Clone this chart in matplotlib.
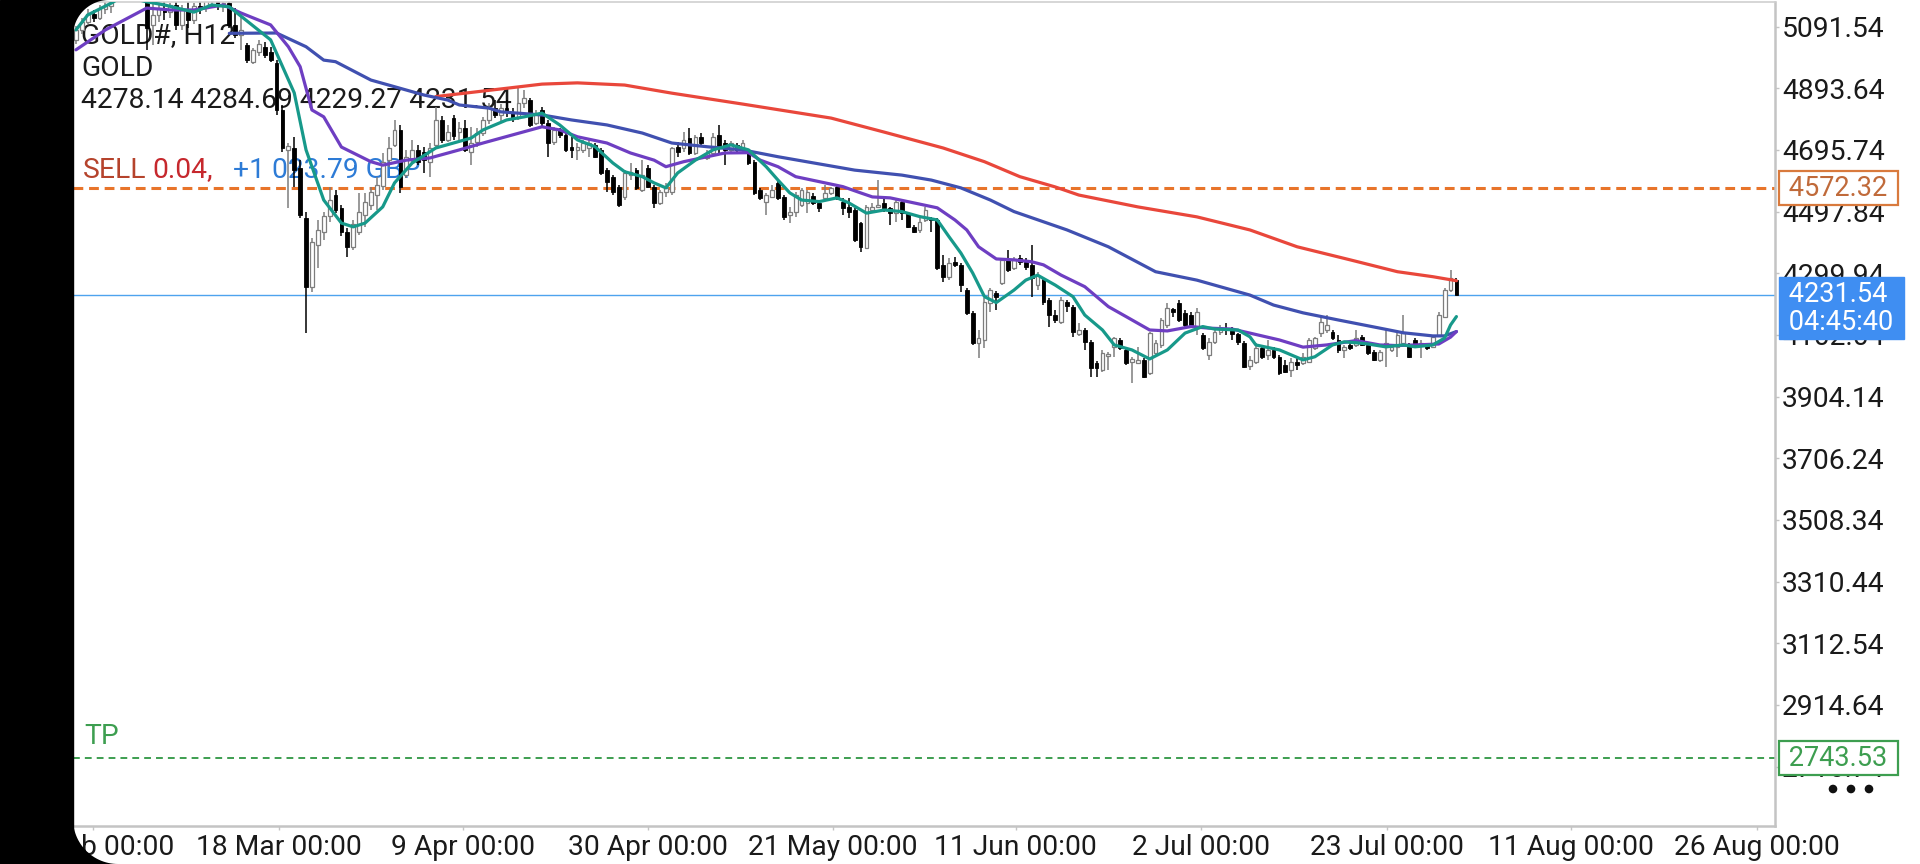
import numpy as np
import matplotlib
matplotlib.use("Agg")
import matplotlib.pyplot as plt
import matplotlib.transforms as mtransforms
from matplotlib.patches import Rectangle, PathPatch, Circle
from matplotlib.path import Path

plt.rcParams['font.family'] = ['Roboto', 'DejaVu Sans']

# ---------------- data (H12 candles, first bar index = -39) ----------------
first_bar = -39
opens = [5049, 5081, 5106, 5132, 5119, 5148, 5158, 5183, 5209, 5241,
         5235, 5215, 5187, 5097, 5129, 5151, 5138, 5161, 5097, 5145,
         5113, 5158, 5151, 5177, 5190, 5161, 5167, 5097, 5065, 5033,
         4978, 5010, 5026, 5010, 4975, 4824, 4696, 4702, 4638, 4477,
         4256, 4391, 4432, 4484, 4551, 4510, 4432, 4384, 4432, 4487,
         4519, 4551, 4580, 4663, 4712, 4760, 4615, 4663, 4696, 4689,
         4657, 4712, 4792, 4728, 4798, 4753, 4766, 4689, 4721, 4750,
         4792, 4830, 4808, 4830, 4818, 4798, 4846, 4856, 4782, 4824,
         4782, 4721, 4760, 4744, 4705, 4696, 4696, 4702, 4712, 4696,
         4631, 4609, 4577, 4545, 4615, 4631, 4567, 4638, 4577, 4526,
         4561, 4561, 4705, 4702, 4734, 4686, 4737, 4670, 4686, 4744,
         4718, 4696, 4712, 4696, 4686, 4657, 4567, 4529, 4545, 4590,
         4545, 4487, 4497, 4519, 4526, 4548, 4526, 4542, 4558, 4577,
         4529, 4513, 4503, 4461, 4381, 4503, 4513, 4526, 4510, 4493,
         4529, 4493, 4449, 4439, 4471, 4477, 4471, 4326, 4288, 4336,
         4326, 4246, 4173, 4076, 4086, 4205, 4237, 4269, 4343, 4317,
         4349, 4336, 4326, 4262, 4278, 4214, 4166, 4144, 4208, 4192,
         4105, 4118, 4079, 4012, 3990, 4035, 4063, 4086, 4054, 4015,
         4012, 4022, 3980, 4044, 4070, 4134, 4185, 4205, 4173, 4166,
         4124, 4102, 4038, 4079, 4112, 4124, 4118, 4105, 4076, 4002,
         4015, 4060, 4038, 4054, 4031, 4006, 3990, 4015, 4012, 4015,
         4060, 4108, 4118, 4112, 4086, 4054, 4070, 4070, 4095, 4070,
         4047, 4022, 4063, 4054, 4063, 4076, 4070, 4086, 4070, 4070,
         4063, 4102, 4160, 4246, 4278.14]
highs = [5093, 5119, 5148, 5145, 5161, 5171, 5203, 5225, 5257, 5273,
         5260, 5241, 5203, 5177, 5171, 5183, 5167, 5187, 5161, 5177,
         5167, 5190, 5196, 5209, 5203, 5183, 5177, 5151, 5122, 5039,
         5023, 5049, 5042, 5026, 4984, 4840, 4718, 4737, 4663, 4497,
         4413, 4471, 4497, 4577, 4567, 4519, 4445, 4471, 4558, 4558,
         4577, 4609, 4686, 4737, 4792, 4776, 4696, 4728, 4712, 4705,
         4718, 4834, 4805, 4776, 4808, 4785, 4792, 4769, 4766, 4801,
         4846, 4856, 4843, 4856, 4830, 4894, 4888, 4862, 4824, 4834,
         4792, 4769, 4766, 4750, 4737, 4718, 4728, 4734, 4718, 4702,
         4638, 4615, 4583, 4631, 4654, 4638, 4663, 4647, 4583, 4567,
         4590, 4705, 4721, 4753, 4766, 4744, 4750, 4696, 4750, 4776,
         4728, 4724, 4718, 4728, 4696, 4663, 4574, 4558, 4583, 4599,
         4551, 4513, 4561, 4574, 4567, 4558, 4535, 4583, 4577, 4583,
         4542, 4542, 4510, 4465, 4519, 4526, 4599, 4545, 4513, 4542,
         4535, 4497, 4455, 4477, 4513, 4481, 4477, 4359, 4349, 4352,
         4333, 4253, 4179, 4118, 4221, 4253, 4243, 4349, 4375, 4352,
         4359, 4349, 4391, 4304, 4285, 4221, 4182, 4224, 4214, 4198,
         4140, 4124, 4086, 4019, 4054, 4047, 4095, 4092, 4060, 4031,
         4063, 4028, 4112, 4086, 4156, 4205, 4189, 4214, 4182, 4176,
         4189, 4108, 4092, 4118, 4134, 4140, 4128, 4108, 4083, 4035,
         4076, 4070, 4086, 4063, 4038, 4022, 4028, 4028, 4044, 4092,
         4095, 4160, 4166, 4118, 4102, 4070, 4076, 4118, 4102, 4076,
         4054, 4054, 4118, 4070, 4118, 4166, 4076, 4092, 4086, 4076,
         4102, 4176, 4253, 4310, 4284.69]
lows = [5036, 5068, 5100, 5106, 5113, 5132, 5135, 5177, 5193, 5215,
        5203, 5183, 5017, 5033, 5106, 5113, 5119, 5081, 5081, 5087,
        5100, 5132, 5138, 5158, 5145, 5138, 5087, 5055, 5017, 4975,
        4972, 4997, 4991, 4978, 4808, 4689, 4509, 4577, 4477, 4108,
        4240, 4317, 4407, 4465, 4493, 4420, 4352, 4375, 4423, 4449,
        4503, 4503, 4567, 4641, 4705, 4558, 4606, 4654, 4647, 4622,
        4609, 4705, 4718, 4721, 4728, 4728, 4689, 4647, 4705, 4741,
        4779, 4798, 4785, 4801, 4785, 4792, 4830, 4769, 4776, 4773,
        4673, 4712, 4734, 4689, 4670, 4663, 4686, 4673, 4670, 4615,
        4561, 4551, 4513, 4535, 4599, 4567, 4561, 4574, 4509, 4519,
        4545, 4551, 4673, 4689, 4679, 4679, 4705, 4663, 4673, 4679,
        4647, 4689, 4689, 4689, 4647, 4551, 4535, 4487, 4542, 4535,
        4471, 4461, 4481, 4513, 4493, 4519, 4497, 4535, 4551, 4535,
        4487, 4477, 4400, 4368, 4378, 4497, 4509, 4497, 4455, 4465,
        4471, 4445, 4429, 4429, 4465, 4432, 4310, 4272, 4278, 4320,
        4240, 4166, 4070, 4028, 4060, 4176, 4182, 4262, 4304, 4310,
        4326, 4310, 4224, 4246, 4198, 4128, 4140, 4137, 4176, 4096,
        4099, 4054, 3967, 3967, 3983, 3990, 4031, 4054, 4006, 3948,
        4009, 3964, 3974, 4035, 4060, 4124, 4160, 4144, 4128, 4128,
        4102, 4054, 4022, 4073, 4102, 4102, 4086, 4070, 3996, 3990,
        4009, 4025, 4022, 4025, 3974, 3980, 3967, 3990, 4006, 4012,
        4054, 4095, 4108, 4086, 4044, 4028, 4054, 4063, 4067, 4038,
        4019, 4015, 3999, 4047, 4031, 4070, 4028, 4063, 4028, 4054,
        4060, 4095, 4157, 4240, 4229.27]
closes = [5081, 5106, 5132, 5119, 5148, 5158, 5183, 5209, 5241, 5235,
          5215, 5193, 5087, 5129, 5151, 5138, 5161, 5097, 5145, 5113,
          5158, 5151, 5177, 5190, 5161, 5167, 5097, 5065, 5081, 4984,
          5017, 5036, 5001, 4984, 4824, 4702, 4708, 4631, 4487, 4256,
          4400, 4439, 4484, 4535, 4503, 4432, 4384, 4458, 4497, 4529,
          4561, 4583, 4657, 4702, 4760, 4577, 4673, 4696, 4657, 4663,
          4702, 4792, 4728, 4753, 4741, 4766, 4696, 4718, 4750, 4792,
          4830, 4808, 4830, 4818, 4798, 4846, 4862, 4776, 4808, 4782,
          4718, 4760, 4744, 4696, 4696, 4705, 4718, 4718, 4673, 4622,
          4593, 4561, 4519, 4622, 4625, 4574, 4615, 4577, 4526, 4561,
          4574, 4702, 4689, 4728, 4686, 4737, 4718, 4686, 4737, 4702,
          4696, 4718, 4696, 4718, 4654, 4558, 4542, 4551, 4567, 4542,
          4481, 4497, 4551, 4567, 4561, 4526, 4510, 4558, 4574, 4542,
          4510, 4497, 4407, 4384, 4513, 4513, 4519, 4510, 4493, 4529,
          4493, 4449, 4432, 4465, 4503, 4471, 4317, 4288, 4333, 4326,
          4262, 4173, 4076, 4092, 4208, 4246, 4224, 4343, 4310, 4346,
          4336, 4320, 4285, 4294, 4208, 4166, 4150, 4214, 4195, 4112,
          4118, 4079, 3996, 3996, 4044, 4041, 4092, 4060, 4012, 4025,
          4022, 3967, 4108, 4076, 4150, 4189, 4176, 4150, 4134, 4134,
          4176, 4060, 4079, 4112, 4124, 4118, 4105, 4079, 3999, 4022,
          4060, 4031, 4054, 4031, 3980, 3983, 4015, 4006, 4031, 4086,
          4092, 4144, 4134, 4092, 4054, 4063, 4060, 4092, 4070, 4044,
          4022, 4047, 4076, 4063, 4102, 4108, 4031, 4070, 4076, 4060,
          4095, 4166, 4246, 4285, 4231.54]

# moving averages (bar index, value)
ma_fast_bar = [-39, -37, -33, -31, -27, -24, -19, -16, -13, -6, -2, 0, 3, 6, 8, 10, 13, 15, 18, 22,
               28, 30, 34, 37, 40, 43, 46, 49, 52, 54, 57, 59, 61, 63, 66, 69, 72, 75, 78, 80,
               82, 84, 87, 90, 92, 95, 98, 101, 104, 107, 109, 111, 113, 115, 117, 120, 122, 124, 127, 130,
               132, 135, 137, 140, 143, 146, 149, 152, 154, 158, 160, 161, 165, 169, 171, 174, 176, 178, 180, 183,
               186, 188, 191, 193, 194, 195]
ma_fast_val = [5081, 5129, 5167, 5190, 5171, 5161, 5138, 5161, 5155, 5049, 4879, 4696, 4535, 4461, 4449, 4461, 4513, 4590, 4654, 4702,
               4734, 4760, 4792, 4802, 4814, 4776, 4728, 4706, 4654, 4626, 4610, 4590, 4574, 4622, 4663, 4696, 4712, 4696, 4642, 4599,
               4558, 4535, 4530, 4542, 4526, 4493, 4503, 4498, 4482, 4471, 4417, 4365, 4301, 4225, 4206, 4246, 4278, 4294, 4262, 4225,
               4166, 4118, 4070, 4054, 4025, 4054, 4108, 4129, 4121, 4118, 4096, 4070, 4054, 4022, 4032, 4070, 4080, 4077, 4073, 4064,
               4070, 4064, 4070, 4092, 4134, 4161]
ma_mid_bar = [-39, -34, -27, -23, -19, -14, -11, -6, -3, -1, 1, 3, 6, 11, 13, 17, 21, 26, 30, 35,
              40, 43, 46, 51, 55, 59, 61, 64, 68, 71, 75, 77, 80, 83, 87, 91, 94, 96, 99, 103,
              107, 110, 112, 114, 117, 120, 123, 125, 128, 132, 136, 139, 143, 146, 150, 153, 157, 160, 165, 169,
              173, 178, 182, 185, 188, 192, 194, 195]
ma_mid_val = [5017, 5081, 5151, 5145, 5145, 5161, 5135, 5097, 5027, 4963, 4824, 4802, 4705, 4658, 4647, 4663, 4670, 4696, 4718, 4744,
              4770, 4760, 4738, 4718, 4686, 4663, 4642, 4658, 4674, 4686, 4687, 4663, 4642, 4610, 4594, 4578, 4558, 4545, 4542, 4526,
              4510, 4471, 4439, 4385, 4346, 4343, 4337, 4327, 4294, 4257, 4193, 4161, 4118, 4115, 4129, 4124, 4121, 4108, 4086, 4063,
              4070, 4084, 4070, 4068, 4070, 4073, 4095, 4113]
ma_slow_bar = [-13, -5, 0, 3, 5, 11, 17, 20, 24, 26, 31, 33, 40, 45, 51, 57, 62, 68, 74, 80,
               93, 101, 106, 111, 116, 120, 129, 136, 144, 151, 160, 164, 169, 175, 182, 186, 191, 193, 195]
ma_slow_val = [5070, 5071, 5027, 4984, 4979, 4920, 4888, 4872, 4856, 4840, 4830, 4818, 4808, 4792, 4776, 4750, 4718, 4706, 4696, 4674,
               4631, 4615, 4599, 4574, 4535, 4498, 4439, 4385, 4305, 4278, 4230, 4198, 4173, 4150, 4124, 4109, 4099, 4099, 4113]
ma_long_bar = [22, 40, 46, 54, 62, 74, 89, 98, 108, 115, 121, 127, 131, 141, 151, 160, 168, 177, 185, 191, 195]
ma_long_val = [4867, 4907, 4911, 4904, 4878, 4843, 4798, 4753, 4702, 4658, 4610, 4577, 4551, 4513, 4481, 4439, 4385, 4343, 4305, 4289, 4276]

# levels
sell_price = 4572.32
tp_price = 2743.53
bid_price = 4231.54
countdown = "04:45:40"

ytick_vals = [5091.54, 4893.64, 4695.74, 4497.84, 4299.94, 4102.04, 3904.14,
              3706.24, 3508.34, 3310.44, 3112.54, 2914.64, 2716.74]
xtick_bar = [-36.1, -4.6, 26.6, 58.0, 89.3, 120.3, 151.7, 183.2, 214.4, 245.9]
xtick_labels = ["25 Feb 00:00", "18 Mar 00:00", "9 Apr 00:00", "30 Apr 00:00", "21 May 00:00",
                "11 Jun 00:00", "2 Jul 00:00", "23 Jul 00:00", "11 Aug 00:00", "26 Aug 00:00"]

# ---------------- figure ----------------
W, H = 1920, 864
fig = plt.figure(figsize=(W / 100, H / 100), dpi=100, facecolor='white')
L_px, R_px, T_px, B_px = 73, 1775, 2, 826
ax = fig.add_axes([L_px / W, 1 - B_px / H, (R_px - L_px) / W, (B_px - T_px) / H])
ax.set_facecolor('white')
ax.set_xlim(-39.5, 249.0)
ax.set_ylim(2526.3, 5170.5)

FS = 20.3      # axis / header text
FSB = 19.5     # text inside price boxes
TXT = '#1a1a1a'
AXC = '#c4c4c4'

# level lines
ax.axhline(sell_price, color='#e8742a', lw=2.2, ls=(0, (3.2, 1.9)), zorder=1.5)
ax.axhline(tp_price, color='#3d9e50', lw=1.4, ls=(0, (3.5, 2.6)), zorder=1.5)
ax.axhline(bid_price, color='#4da3ee', lw=1.0, zorder=1.5)

# candles
o = np.array(opens, float); c = np.array(closes, float)
h = np.array(highs, float); l = np.array(lows, float)
bars = np.arange(first_bar, first_bar + len(c))
bull = c >= o
ax.vlines(bars[bull], l[bull], h[bull], color='#7d7d7d', lw=1.1, zorder=2)
ax.vlines(bars[~bull], l[~bull], h[~bull], color='#000000', lw=1.1, zorder=2)
body = np.maximum(np.abs(c - o), 3.0)
bottom = np.minimum(o, c)
ax.bar(bars[bull], body[bull], bottom=bottom[bull], width=0.64, color='white',
       edgecolor='#7d7d7d', linewidth=0.9, zorder=2.2)
ax.bar(bars[~bull], body[~bull], bottom=bottom[~bull], width=0.64, color='black',
       edgecolor='black', linewidth=0.6, zorder=2.2)

# moving averages
ax.plot(ma_long_bar, ma_long_val, color='#e9473b', lw=2.3, zorder=3, solid_capstyle='round')
ax.plot(ma_slow_bar, ma_slow_val, color='#4050b0', lw=2.3, zorder=3, solid_capstyle='round')
ax.plot(ma_mid_bar, ma_mid_val, color='#6e3ec2', lw=2.3, zorder=3.1, solid_capstyle='round')
ax.plot(ma_fast_bar, ma_fast_val, color='#17998a', lw=2.3, zorder=3.2, solid_capstyle='round')

# spines and ticks
ax.spines['left'].set_visible(False)
ax.spines['top'].set_color('#cfcfcf'); ax.spines['top'].set_linewidth(1.2)
ax.spines['bottom'].set_color(AXC); ax.spines['bottom'].set_linewidth(1.8)
ax.spines['right'].set_color(AXC); ax.spines['right'].set_linewidth(1.8)
ax.yaxis.tick_right()
ax.set_yticks(ytick_vals)
ax.set_yticklabels([f"{v:.2f}" for v in ytick_vals])
ax.tick_params(axis='y', which='both', length=3, width=1, color=AXC, pad=2,
               labelsize=FS, labelcolor=TXT, left=False)
ax.set_xticks(xtick_bar)
ax.set_xticklabels(xtick_labels)
ax.tick_params(axis='x', length=3, width=1, color=AXC, pad=3, labelsize=FS, labelcolor=TXT)

# header texts
def ftext(x, y, s, **kw):
    return ax.text(x / W, 1 - y / H, s, transform=fig.transFigure, va='center', ha='left',
                   fontsize=FS, zorder=1.8, **kw)

ftext(81, 36, "GOLD#, H12", color=TXT)
ftext(81, 68, "GOLD", color=TXT)
ftext(81, 101, f"{opens[-1]:.2f} {highs[-1]:.2f} {lows[-1]:.2f} {closes[-1]:.2f}", color=TXT)
ftext(83, 170, "SELL", color='#b5432c')
ftext(152, 170, "0.04,", color='#c6282d')
ftext(233, 170, "+1 023.79 GBP", color='#2d7bd6')
ftext(84, 737, "TP", color='#3d9e50')

# price boxes on the right axis
trans = mtransforms.blended_transform_factory(fig.transFigure, ax.transData)
ax.text(1782.5 / W, sell_price, f" {sell_price:.2f} ", transform=trans, ha='left', va='center',
        fontsize=FSB, color='#c06a3a', zorder=6, clip_on=False,
        bbox=dict(boxstyle='square,pad=0.13', fc='white', ec='#d97a3d', lw=1.6))
ax.text(1782.5 / W, tp_price, f" {tp_price:.2f} ", transform=trans, ha='left', va='center',
        fontsize=FSB, color='#3d9e50', zorder=6, clip_on=False,
        bbox=dict(boxstyle='square,pad=0.13', fc='white', ec='#3d9e50', lw=1.6))
ax.annotate(f" {bid_price:.2f} \n {countdown} ", xy=(1782.5 / W, bid_price), xycoords=trans,
            xytext=(0, 14), textcoords='offset pixels', ha='left', va='top', fontsize=FSB,
            color='white', linespacing=1.05, zorder=6, annotation_clip=False,
            bbox=dict(boxstyle='square,pad=0.13', fc='#3f8ef2', ec='#3f8ef2', lw=1))

# menu dots (drawn as small circles in pixel space)
idt = mtransforms.IdentityTransform()
for xd in (1833, 1851, 1869):
    fig.add_artist(Circle((xd, H - 789), 3.6, transform=idt, color='#111111', zorder=9))

# phone screen edge (black bar + rounded corners)
fig.add_artist(Rectangle((0, 0), L_px / W, 1, transform=fig.transFigure, color='black', zorder=10))
r1 = 36
t = np.linspace(np.pi / 2, np.pi, 30)
cx, cy = L_px + r1, H - r1
verts = [(L_px - 1, H + 1), (L_px + r1, H + 1)] + [(cx + r1 * np.cos(a), cy + r1 * np.sin(a)) for a in t] + [(L_px - 1, H + 1)]
fig.add_artist(PathPatch(Path(verts), transform=idt, color='black', lw=0, zorder=10))
r2 = 45
t2 = np.linspace(np.pi, 1.5 * np.pi, 30)
cx2, cy2 = L_px + r2, r2
verts2 = [(L_px - 1, -1), (L_px - 1, cy2)] + [(cx2 + r2 * np.cos(a), cy2 + r2 * np.sin(a)) for a in t2] + [(L_px - 1, -1)]
fig.add_artist(PathPatch(Path(verts2), transform=idt, color='black', lw=0, zorder=10))

fig.savefig("out.png", dpi=100, facecolor='white')
